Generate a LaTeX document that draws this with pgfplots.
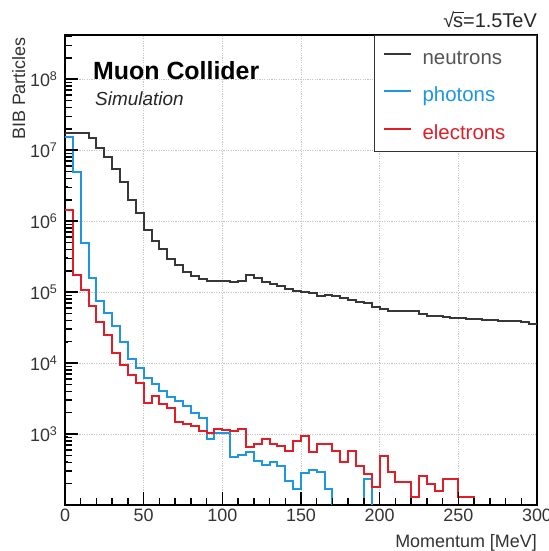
\documentclass[border=0pt]{standalone}
\usepackage{pgfplots}
\pgfplotsset{compat=1.18}
\usepackage{fontspec}
\setmainfont{Liberation Sans}
\definecolor{ngray}{RGB}{55,55,55}
\definecolor{ntext}{RGB}{85,85,85}
\definecolor{pblue}{RGB}{30,150,225}
\definecolor{ered}{RGB}{225,30,40}
\begin{document}
\begin{tikzpicture}
\begin{axis}[
  at={(0bp,0bp)}, anchor=south west,
  scale only axis, width=472bp, height=470bp,
  xmin=0, xmax=300, ymode=log, ymin=100, ymax=4.2e8,
  xtick={0,50,...,300},
  ytick={1e2,1e3,1e4,1e5,1e6,1e7,1e8},
  yticklabels={,10\textsuperscript{3},10\textsuperscript{4},10\textsuperscript{5},10\textsuperscript{6},10\textsuperscript{7},10\textsuperscript{8}},
  /pgf/number format/assume math mode=true,
  xticklabel style={font=\fontsize{18}{18}\selectfont, text=black!80},
  yticklabel style={font=\fontsize{18}{18}\selectfont, text=black!80, xshift=-4bp},
  tick pos=left, tick align=inside,
  major tick length=13bp,
  every tick/.style={black, line width=1.6bp},
  axis line style={line width=1.5bp},
  grid=major,
  major grid style={gray!45, line width=0.7bp, dash pattern=on 1.2bp off 1.2bp},
  legend style={at={(1,1)}, anchor=north east, draw=black!80, line width=0.8bp, fill=white,
    inner xsep=8bp, inner ysep=8bp, row sep=12.5bp,
    font=\fontsize{20.5}{24}\selectfont,
    nodes={inner sep=0pt, text height=21bp, text depth=4bp}},
  legend cell align=left,
  legend image code/.code={\draw[#1] (0bp,2bp) -- (27bp,2bp); \path (38bp,0bp);},
]
\addplot[const plot mark left, color=ngray, line width=2bp] table {
x y
0 1.74e7
5 1.74e7
10 1.74e7
15 1.48e7
20 1.07e7
25 7.9e6
30 5.5e6
35 3.55e6
40 2.0e6
45 1.32e6
50 7.6e5
55 5.25e5
60 4.0e5
65 2.9e5
70 2.4e5
75 1.95e5
80 1.66e5
85 1.51e5
90 1.45e5
95 1.45e5
100 1.45e5
105 1.38e5
110 1.45e5
115 1.74e5
120 1.58e5
125 1.41e5
130 1.32e5
135 1.23e5
140 1.10e5
145 1.02e5
150 1.00e5
155 9.8e4
160 8.9e4
165 9.1e4
170 8.7e4
175 8.3e4
180 7.8e4
185 7.2e4
190 7.1e4
195 6.2e4
200 5.75e4
205 5.5e4
210 5.5e4
215 5.5e4
220 5.4e4
225 4.9e4
230 4.6e4
235 4.6e4
240 4.47e4
245 4.37e4
250 4.27e4
255 4.17e4
260 4.17e4
265 4.07e4
270 4.07e4
275 3.98e4
280 3.89e4
285 3.89e4
290 3.8e4
295 3.55e4
300 3.55e4
};
\addlegendentry{\textcolor{ntext}{\makebox[106bp][l]{neutrons}}}
\addplot[const plot mark left, color=pblue, line width=2bp] table {
x y
0 1.55e7
5 5.0e6
10 4.9e5
15 1.58e5
20 7.4e4
25 5.0e4
30 3.3e4
35 2.0e4
40 1.15e4
45 8.5e3
50 6.2e3
55 5.0e3
60 4.0e3
65 3.3e3
70 2.95e3
75 2.45e3
80 2.0e3
85 1.7e3
90 850
95 1020
100 1020
105 480
110 500
115 550
120 417
125 372
130 398
135 355
140 219
145 166
150 282
155 316
160 288
165 166
170 1
190 234
195 1
300 1
};
\addlegendentry{\textcolor{pblue}{\makebox[106bp][l]{photons}}}
\addplot[const plot mark left, color=ered, line width=2bp] table {
x y
0 1.45e6
5 1.75e5
10 1.07e5
15 6.3e4
20 3.8e4
25 2.5e4
30 1.4e4
35 9.3e3
40 6.9e3
45 5.25e3
50 2.75e3
55 3.4e3
60 2.65e3
65 2.3e3
70 1.5e3
75 1.38e3
80 1.29e3
85 1.1e3
90 1.05e3
95 1.17e3
100 1.15e3
105 1.1e3
110 1.17e3
115 660
120 720
125 850
130 720
135 680
140 575
145 800
150 930
155 550
160 720
165 720
170 575
175 400
180 575
185 355
190 270
195 178
200 490
205 290
210 209
215 209
220 129
225 257
230 195
235 158
240 234
245 234
250 129
255 129
260 1
300 1
};
\addlegendentry{\textcolor{ered}{\makebox[106bp][l]{electrons}}}
\pgfplotsinvokeforeach{50,100,150,200,250}{
  \draw[black, line width=1.6bp] (axis cs:#1,100) -- ++(0bp,13bp);}
\pgfplotsinvokeforeach{10,20,30,40,60,70,80,90,110,120,130,140,160,170,180,190,210,220,230,240,260,270,280,290}{
  \draw[black, line width=1.5bp] (axis cs:#1,100) -- ++(0bp,7bp);}
\pgfplotsinvokeforeach{1e3,1e4,1e5,1e6,1e7,1e8}{
  \draw[black, line width=1.6bp] (axis cs:0,#1) -- ++(13bp,0bp);}
\pgfplotsinvokeforeach{2e2,3e2,4e2,5e2,6e2,7e2,8e2,9e2,2e3,3e3,4e3,5e3,6e3,7e3,8e3,9e3,2e4,3e4,4e4,5e4,6e4,7e4,8e4,9e4,2e5,3e5,4e5,5e5,6e5,7e5,8e5,9e5,2e6,3e6,4e6,5e6,6e6,7e6,8e6,9e6,2e7,3e7,4e7,5e7,6e7,7e7,8e7,9e7,2e8,3e8,4e8}{
  \draw[black, line width=1.5bp] (axis cs:0,#1) -- ++(7bp,0bp);}
\end{axis}
\node[anchor=base west, inner sep=0pt, font=\bfseries\fontsize{25}{30}\selectfont] at (28bp,425bp) {Muon Collider};
\node[anchor=base west, inner sep=0pt, font=\itshape\fontsize{19}{22}\selectfont, text=black!85] at (30bp,399bp) {Simulation};
\node[anchor=base east, inner sep=0pt, font=\fontsize{20}{24}\selectfont, text=black!85] at (472bp,477bp) {√\kern-0.06em\rlap{\rule[0.74em]{0.52em}{0.07em}}s=1.5TeV};
\node[anchor=base east, inner sep=0pt, font=\fontsize{18}{20}\selectfont, text=black!80] at (472bp,-42bp) {Momentum [MeV]};
\node[rotate=90, anchor=base east, inner sep=0pt, font=\fontsize{18}{20}\selectfont, text=black!80] at (-40bp,468bp) {BIB Particles};
\pgfresetboundingbox
\path[use as bounding box] (-65bp,-46bp) rectangle (484bp,505bp);
\end{tikzpicture}
\end{document}
